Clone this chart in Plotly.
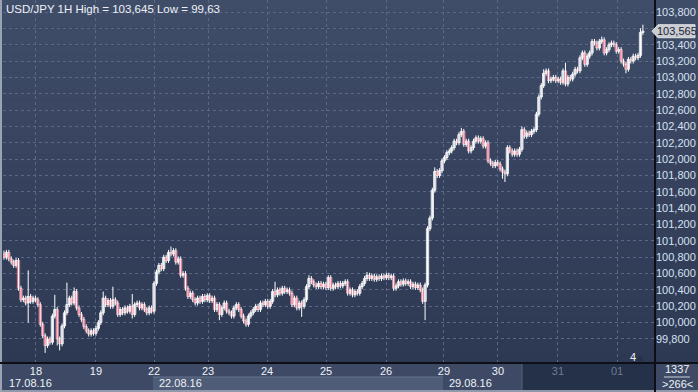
import plotly.graph_objects as go

# ---------------- data ----------------
closes = [
    100.80, 100.86, 100.78, 100.74, 100.70, 100.76, 100.42, 100.28, 100.30, 100.24,
    100.32, 100.26, 100.30, 100.28, 100.22, 99.98, 99.84, 99.72, 99.80, 99.76,
    100.08, 100.16, 99.80, 99.74, 99.96, 100.12, 100.22, 100.30, 100.24, 100.38,
    100.18, 100.10, 100.04, 99.95, 99.90, 99.86, 99.90, 99.87, 99.93, 100.00,
    100.12, 100.30, 100.22, 100.27, 100.20, 100.28, 100.24, 100.10, 100.16, 100.12,
    100.18, 100.14, 100.20, 100.10, 100.22, 100.24, 100.18, 100.22, 100.16, 100.12,
    100.18, 100.14, 100.48, 100.62, 100.70, 100.66, 100.80, 100.76, 100.86, 100.84,
    100.88, 100.74, 100.78, 100.58, 100.60, 100.42, 100.32, 100.36, 100.28, 100.24,
    100.30, 100.26, 100.32, 100.28, 100.33, 100.27, 100.30, 100.16, 100.22, 100.10,
    100.18, 100.24, 100.14, 100.12, 100.08, 100.18, 100.22, 100.16, 100.08, 100.02,
    99.98, 100.08, 100.12, 100.16, 100.20, 100.16, 100.24, 100.22, 100.26, 100.20,
    100.26, 100.38, 100.34, 100.40, 100.36, 100.42, 100.38, 100.40, 100.36, 100.22,
    100.30, 100.18, 100.24, 100.20, 100.28, 100.44, 100.54, 100.50, 100.46, 100.44,
    100.48, 100.44, 100.47, 100.43, 100.55, 100.42, 100.46, 100.44, 100.48, 100.45,
    100.48, 100.50, 100.36, 100.40, 100.34, 100.38, 100.36, 100.44, 100.48, 100.54,
    100.58, 100.54, 100.57, 100.53, 100.56, 100.54, 100.57, 100.55, 100.58, 100.55,
    100.57, 100.42, 100.45, 100.50, 100.47, 100.51, 100.48, 100.50, 100.44, 100.47,
    100.43, 100.46, 100.40, 100.26, 100.46, 101.15, 101.28, 101.62, 101.85, 101.80,
    101.86, 101.98, 102.02, 102.08, 102.10, 102.14, 102.22, 102.20, 102.30, 102.34,
    102.18, 102.22, 102.10, 102.14, 102.22, 102.26, 102.22, 102.25, 102.16, 102.20,
    101.98, 101.95, 101.92, 101.96, 101.94, 101.88, 101.84, 101.82, 102.14, 102.10,
    102.06, 102.10, 102.06, 102.12, 102.36, 102.28, 102.32, 102.30, 102.34, 102.36,
    102.55, 102.76, 102.90, 103.05, 103.08, 102.96, 102.98, 103.00, 102.96, 102.98,
    102.94, 103.08, 102.92, 103.00, 102.98, 103.04, 103.10, 103.08, 103.24, 103.30,
    103.16, 103.26, 103.30, 103.44, 103.42, 103.36, 103.44, 103.46, 103.30, 103.34,
    103.40, 103.42, 103.40, 103.32, 103.34, 103.20, 103.16, 103.10, 103.22, 103.20,
    103.26, 103.24, 103.27, 103.55, 103.565,
]
first_open = 100.84

# notable long wicks (candle index -> price)
wick_highs = {0: 100.88, 10: 100.64, 21: 100.34, 26: 100.49, 29: 100.43, 41: 100.38,
              45: 100.44, 53: 100.35, 69: 100.93, 112: 100.50, 126: 100.58, 135: 100.58,
              150: 100.62, 176: 101.30, 178: 101.90, 189: 102.38, 214: 102.40,
              223: 103.10, 232: 103.18, 239: 103.33, 247: 103.50, 263: 103.60, 264: 103.645}
wick_lows = {10: 100.00, 17: 99.63, 22: 99.72, 23: 99.66, 53: 100.05, 89: 100.03,
             100: 99.95, 123: 100.07, 174: 100.03, 206: 101.76, 207: 101.72, 257: 103.05}
typical_wick = 0.03

day_labels = ["18", "19", "22", "23", "24", "25", "26", "29", "30", "31", "01"]
day_pos = [13.2, 38.0, 62.0, 84.3, 108.7, 133.1, 157.9, 181.8, 204.1, 228.9, 253.3]
dim_days = ["31", "01"]
week_labels = ["17.08.16", "22.08.16", "29.08.16"]

y_ticks = [99.8, 100.0, 100.2, 100.4, 100.6, 100.8, 101.0, 101.2, 101.4, 101.6, 101.8,
           102.0, 102.2, 102.4, 102.6, 102.8, 103.0, 103.2, 103.4, 103.6, 103.8]
hidden_tick = 103.6  # covered by the price tag in the original

title_text = "USD/JPY 1H High = 103,645 Low = 99,63"
total_bars = "1337"
visible_bars = ">266<"

# ---------------- build OHLC ----------------
n = len(closes)
opens = [first_open] + closes[:-1]
highs = [max(wick_highs.get(i, 0.0), max(opens[i], closes[i]) + typical_wick) for i in range(n)]
lows = [min(wick_lows.get(i, 1e9), min(opens[i], closes[i]) - typical_wick) for i in range(n)]

W, H = 698, 392
L, R, T, B = 3, 43, 0, 29
PW, PH = W - L - R, H - T - B
Y0, Y1 = 99.506, 103.947


def px(x):
    return (x - L) / PW


def py(y):
    return (H - B - y) / PH


FONT = "Liberation Sans, Arial"
fig = go.Figure()

# wicks
wx, wy = [], []
for i in range(n):
    wx += [i, i, None]
    wy += [lows[i], highs[i], None]
fig.add_trace(go.Scatter(x=wx, y=wy, mode="lines", line=dict(color="#ffffff", width=1),
                         hoverinfo="skip", showlegend=False))

# bodies
min_body = 0.012
inc = [i for i in range(n) if closes[i] >= opens[i]]
dec = [i for i in range(n) if closes[i] < opens[i]]
for idx, fill, lw in ((inc, "#a9b1c2", 0.8), (dec, "#f0123f", 0.5)):
    base = [min(opens[i], closes[i]) for i in idx]
    hgt = [max(abs(closes[i] - opens[i]), min_body) for i in idx]
    fig.add_trace(go.Bar(x=idx, y=hgt, base=base, width=0.95,
                         marker=dict(color=fill, line=dict(color="#ffffff", width=lw)),
                         hoverinfo="skip", showlegend=False))

shapes = []
# background gradient bands (chart + right axis panel)
nb = 40
top_c = (64, 77, 105)
bot_c = (45, 56, 82)
for k in range(nb):
    y0 = 363 * k / nb
    y1 = 363 * (k + 1) / nb
    t = (k + 0.5) / nb
    c = tuple(int(round(top_c[j] + (bot_c[j] - top_c[j]) * t)) for j in range(3))
    shapes.append(dict(type="rect", xref="paper", yref="paper", x0=px(0), x1=px(W),
                       y0=py(y1), y1=py(y0), fillcolor="rgb(%d,%d,%d)" % c,
                       line=dict(width=0), layer="below"))
# bottom strip
shapes.append(dict(type="rect", xref="paper", yref="paper", x0=px(0), x1=px(W),
                   y0=py(H), y1=py(363), fillcolor="#3e4a65", line=dict(width=0), layer="below"))
shapes.append(dict(type="rect", xref="paper", yref="paper", x0=px(153), x1=px(443),
                   y0=py(390), y1=py(377), fillcolor="#4f5c77",
                   line=dict(width=0), layer="below"))
shapes.append(dict(type="line", xref="paper", yref="paper", x0=px(153), x1=px(443),
                   y0=py(377), y1=py(377), line=dict(color="#66728a", width=1), layer="below"))
shapes.append(dict(type="rect", xref="paper", yref="paper", x0=px(522), x1=px(655),
                   y0=py(390), y1=py(364), fillcolor="#253049",
                   line=dict(width=0), layer="below"))
shapes.append(dict(type="line", xref="paper", yref="paper", x0=px(522), x1=px(522),
                   y0=py(390), y1=py(364), line=dict(color="#56627a", width=1), layer="below"))
# borders
shapes.append(dict(type="line", xref="paper", yref="paper", x0=px(0), x1=px(W),
                   y0=py(391), y1=py(391), line=dict(color="#8f99ab", width=2)))
shapes.append(dict(type="line", xref="paper", yref="paper", x0=px(1), x1=px(1),
                   y0=py(0), y1=py(H), line=dict(color="#9aa3b3", width=2)))
shapes.append(dict(type="line", xref="paper", yref="paper", x0=px(0), x1=px(W),
                   y0=py(363), y1=py(363), line=dict(color="#0c0f16", width=2)))
shapes.append(dict(type="line", xref="paper", yref="paper", x0=px(655), x1=px(655),
                   y0=py(0), y1=py(H), line=dict(color="#0c0f16", width=2)))
shapes.append(dict(type="line", xref="paper", yref="paper", x0=px(664), x1=px(690),
                   y0=py(377), y1=py(377), line=dict(color="#c8d0dc", width=1)))
shapes.append(dict(type="path", xref="paper", yref="paper",
                   path="M %f %f L %f %f L %f %f Z" % (px(636), py(361), px(644), py(361), px(640), py(355)),
                   fillcolor="#27304a", line=dict(width=0)))
# price tag
ty = closes[-1]
y_tag = (ty - Y0) / (Y1 - Y0)
tag_top = y_tag + 6.5 / PH
tag_bot = y_tag - 6.5 / PH
shapes.append(dict(type="path", xref="paper", yref="paper",
                   path="M %f %f L %f %f L %f %f L %f %f L %f %f Z" % (
                       px(652), y_tag, px(658), tag_top, px(695), tag_top, px(695), tag_bot, px(658), tag_bot),
                   fillcolor="#c9ccd2", line=dict(color="#e0e2e6", width=1)))

annotations = []
annotations.append(dict(text=title_text, xref="paper", yref="paper", x=px(4), y=py(9),
                        xanchor="left", yanchor="middle", showarrow=False,
                        font=dict(family=FONT, size=11.5, color="#eef2f8")))
annotations.append(dict(text=("%.3f" % ty).replace(".", ","),
                        xref="paper", yref="paper", x=px(676.5), y=y_tag,
                        xanchor="center", yanchor="middle", showarrow=False,
                        font=dict(family=FONT, size=11, color="#1b2233")))
week_px = [7, 157, 447]
for lbl, xp in zip(week_labels, week_px):
    annotations.append(dict(text=lbl, xref="paper", yref="paper", x=px(xp), y=py(383),
                            xanchor="left", yanchor="middle", showarrow=False,
                            font=dict(family=FONT, size=11, color="#eef2f8")))
annotations.append(dict(text="4", xref="paper", yref="paper", x=px(633), y=py(357),
                        xanchor="center", yanchor="middle", showarrow=False,
                        font=dict(family=FONT, size=11, color="#eef2f8")))
annotations.append(dict(text=total_bars, xref="paper", yref="paper", x=px(677), y=py(369),
                        xanchor="center", yanchor="middle", showarrow=False,
                        font=dict(family=FONT, size=11, color="#eef2f8")))
annotations.append(dict(text=visible_bars, xref="paper", yref="paper", x=px(677), y=py(384),
                        xanchor="center", yanchor="middle", showarrow=False,
                        font=dict(family=FONT, size=11, color="#eef2f8")))

tick_text = []
for d in day_labels:
    if d in dim_days:
        tick_text.append('<span style="color:#6e7c95">%s</span>' % d)
    else:
        tick_text.append(d)

y_text = ["" if abs(v - hidden_tick) < 1e-9 else ("%.3f" % v).replace(".", ",") for v in y_ticks]

fig.update_layout(
    width=W, height=H,
    margin=dict(l=L, r=R, t=T, b=B, pad=0),
    paper_bgcolor="#35415c",
    plot_bgcolor="rgba(0,0,0,0)",
    barmode="overlay",
    shapes=shapes,
    annotations=annotations,
    showlegend=False,
    xaxis=dict(
        range=[-0.41, 269.0],
        tickmode="array", tickvals=day_pos, ticktext=tick_text,
        showgrid=True, gridcolor="#5a6886", griddash="3px,3px", gridwidth=1,
        zeroline=False, showline=False, ticks="",
        tickfont=dict(family=FONT, size=11, color="#eef2f8"),
        fixedrange=True,
    ),
    yaxis=dict(
        side="right",
        range=[Y0, Y1],
        tickmode="array", tickvals=y_ticks, ticktext=y_text,
        showgrid=True, gridcolor="#5a6886", griddash="3px,3px", gridwidth=1,
        zeroline=False, showline=False, ticks="",
        tickfont=dict(family=FONT, size=11, color="#d6e2f0"),
        fixedrange=True,
    ),
)

fig.write_html("out.html")
